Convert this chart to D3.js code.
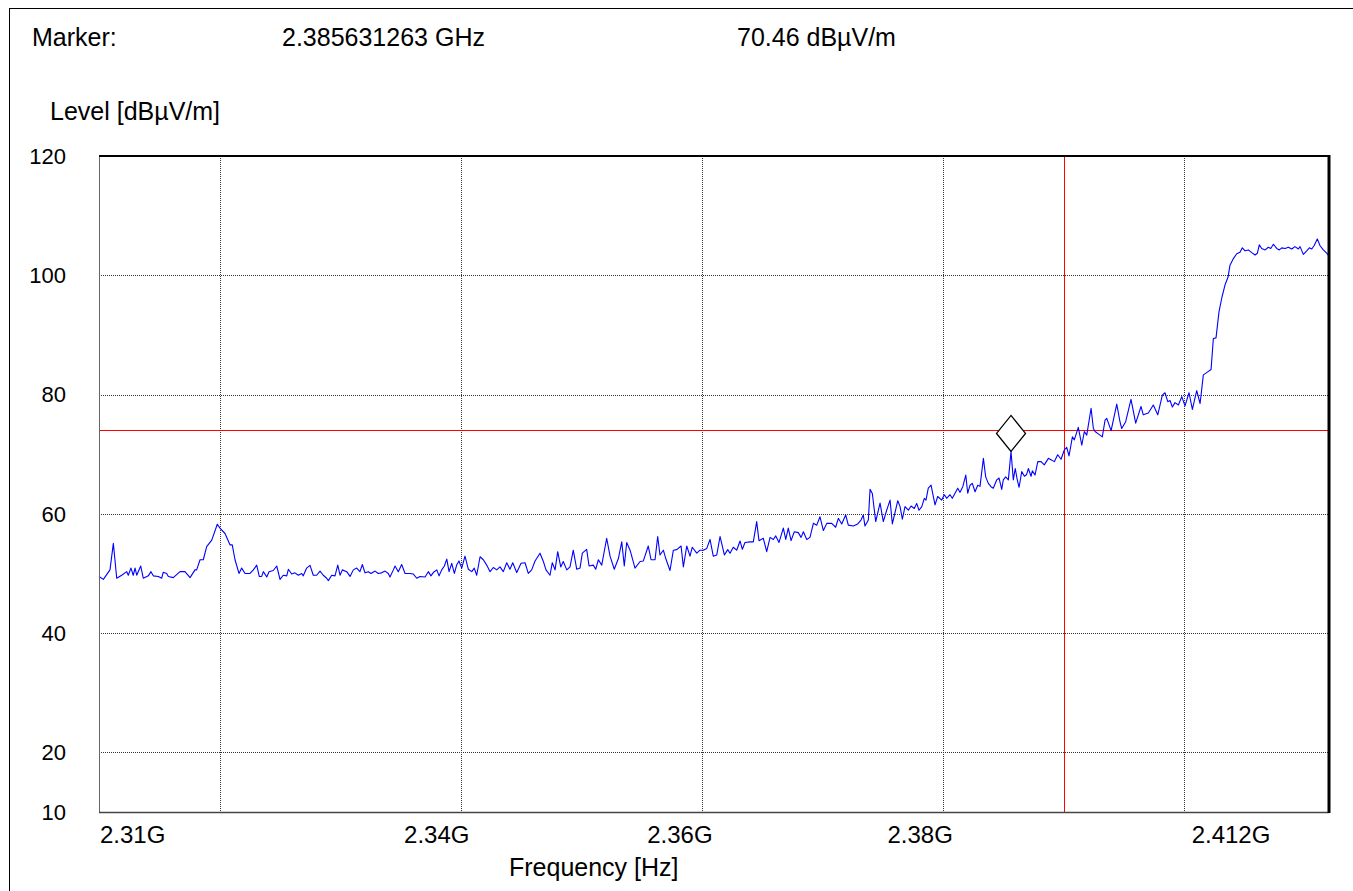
<!DOCTYPE html>
<html>
<head>
<meta charset="utf-8">
<script src="https://cdn.jsdelivr.net/npm/d3@7"></script>
<style>
  html, body { margin: 0; padding: 0; background: #fff; }
  svg { display: block; font-family: "Liberation Sans", Arial, Helvetica, sans-serif; }
</style>
</head>
<body>
<svg id="chart" width="1353" height="891"></svg>
<script>
// Sweep trace: [frequency in MHz, level in dBµV/m]
const trace = [
  [2310.00,49.5],[2310.36,49.0],[2310.91,50.6],[2311.19,55.05],[2311.47,49.2],[2311.88,49.7],[2312.30,50.3],[2312.43,49.7],[2312.65,50.9],[2312.84,49.7],[2312.99,50.9],[2313.13,49.7],[2313.46,51.25],[2313.67,49.2],[2314.09,49.6],[2314.31,50.3],[2314.50,49.6],[2314.92,49.5],[2315.20,49.2],[2315.33,50.2],[2315.61,50.0],[2315.75,49.5],[2316.16,49.3],[2316.72,50.3],[2317.13,50.3],[2317.55,49.3],[2317.96,50.6],[2318.10,50.6],[2318.38,52.3],[2318.65,52.3],[2318.93,54.5],[2319.35,55.6],[2319.81,58.25],[2320.03,57.6],[2320.45,56.7],[2320.86,54.8],[2321.05,54.8],[2321.28,52.3],[2321.61,50.0],[2321.83,50.9],[2322.11,50.0],[2322.52,50.0],[2322.80,50.6],[2323.08,51.4],[2323.29,49.5],
  [2323.49,49.5],[2323.63,50.3],[2323.91,49.4],[2324.10,50.3],[2324.45,50.5],[2324.74,51.25],[2325.01,49.0],[2325.28,49.7],[2325.57,49.6],[2325.70,50.7],[2325.98,49.9],[2326.25,50.1],[2326.53,49.7],[2326.81,50.0],[2326.94,49.6],[2327.22,50.9],[2327.50,51.35],[2327.77,49.7],[2328.05,49.7],[2328.33,50.4],[2328.60,49.7],[2328.88,49.2],[2329.02,48.8],[2329.30,49.7],[2329.57,49.6],[2329.80,51.4],[2329.99,49.7],[2330.18,50.6],[2330.54,50.3],[2330.82,49.5],[2331.09,50.6],[2331.37,50.9],[2331.64,50.3],[2331.84,51.5],[2332.06,50.1],[2332.33,50.3],[2332.56,50.0],[2332.89,50.4],[2333.16,50.0],[2333.44,50.1],[2333.72,50.4],[2333.99,50.0],[2334.13,49.4],[2334.41,50.6],[2334.55,51.25],[2334.82,50.3],[2335.10,51.5],[2335.38,50.0],[2335.79,50.0],[2336.07,49.9],[2336.35,49.2],[2336.62,49.5],
  [2337.04,49.4],[2337.31,50.3],[2337.53,49.6],[2337.72,50.15],[2338.01,50.6],[2338.20,49.6],[2338.42,50.6],[2338.64,51.25],[2338.84,52.4],[2339.03,50.3],[2339.25,51.7],[2339.47,50.0],[2339.66,51.4],[2339.85,52.1],[2340.08,50.9],[2340.35,52.9],[2340.63,50.7],[2340.91,50.3],[2341.12,50.9],[2341.32,49.7],[2341.60,52.8],[2341.87,52.3],[2342.15,51.4],[2342.43,50.3],[2342.70,51.0],[2342.98,50.6],[2343.25,51.1],[2343.53,50.3],[2343.81,51.8],[2344.08,50.7],[2344.31,51.8],[2344.64,50.15],[2345.00,51.7],[2345.33,51.8],[2345.60,50.0],[2345.88,50.6],[2346.16,52.1],[2346.57,53.4],[2346.85,52.0],[2347.07,50.6],[2347.40,49.7],[2347.59,51.8],[2347.82,50.6],[2348.04,53.65],[2348.29,51.1],[2348.50,52.0],[2348.79,50.6],[2349.06,51.1],[2349.33,53.9],[2349.62,50.7],
  [2349.89,50.9],[2350.08,53.4],[2350.44,54.05],[2350.64,51.25],[2350.99,51.4],[2351.19,50.7],[2351.41,52.3],[2351.69,51.4],[2352.10,55.9],[2352.38,52.9],[2352.73,50.7],[2353.07,52.5],[2353.35,55.3],[2353.56,51.25],[2353.76,55.2],[2354.04,53.9],[2354.45,50.9],[2354.87,52.0],[2355.14,52.1],[2355.55,54.6],[2355.78,52.3],[2356.11,52.3],[2356.33,56.2],[2356.52,53.1],[2356.80,53.9],[2357.00,52.5],[2357.35,50.5],[2357.63,53.9],[2357.91,54.0],[2358.27,54.6],[2358.46,51.1],[2358.74,54.6],[2359.01,52.9],[2359.20,54.4],[2359.57,53.4],[2359.84,53.9],[2360.11,53.9],[2360.40,54.2],[2360.67,55.7],[2360.94,52.9],[2361.23,53.1],[2361.50,56.2],[2361.86,53.1],[2362.14,54.0],[2362.33,53.4],[2362.60,54.4],[2362.88,53.9],[2363.16,55.45],
  [2363.35,54.05],[2363.57,55.2],[2363.99,55.3],[2364.26,55.3],[2364.54,58.7],[2364.73,55.5],[2365.09,55.9],[2365.37,53.65],[2365.65,56.05],[2365.92,55.7],[2366.12,56.3],[2366.39,55.2],[2366.75,57.6],[2366.95,55.7],[2367.16,57.6],[2367.39,55.5],[2367.66,57.0],[2367.99,56.85],[2368.22,56.05],[2368.41,57.0],[2368.69,55.7],[2368.96,56.05],[2369.24,58.4],[2369.52,58.1],[2369.79,59.5],[2370.07,57.2],[2370.35,58.4],[2370.76,58.4],[2371.09,57.75],[2371.31,59.25],[2371.59,58.3],[2371.92,59.8],[2372.14,58.1],[2372.55,57.95],[2372.92,58.3],[2373.19,58.95],[2373.38,59.8],[2373.52,57.95],[2373.80,58.95],[2373.94,64.1],[2374.13,63.4],[2374.41,58.7],[2374.77,61.8],[2375.04,58.7],[2375.32,60.6],[2375.60,62.3],[2375.79,58.3],[2376.24,62.2],[2376.43,61.2],
  [2376.62,59.1],[2376.84,61.2],[2377.12,60.6],[2377.34,61.3],[2377.61,60.9],[2377.81,61.75],[2378.00,60.6],[2378.23,61.2],[2378.44,62.6],[2378.58,62.3],[2378.77,64.3],[2379.00,64.8],[2379.19,62.9],[2379.33,61.5],[2379.55,62.9],[2379.88,62.3],[2380.10,63.2],[2380.30,62.6],[2380.57,63.2],[2380.76,62.6],[2380.99,63.45],[2381.21,64.3],[2381.40,63.6],[2381.63,64.55],[2381.88,66.5],[2382.04,63.45],[2382.23,64.8],[2382.42,65.1],[2382.65,63.7],[2382.87,64.8],[2383.06,64.6],[2383.34,69.3],[2383.53,66.2],[2383.75,65.1],[2383.97,64.55],[2384.16,64.3],[2384.45,65.7],[2384.64,66.0],[2384.86,64.1],[2384.99,65.7],[2385.19,66.2],[2385.41,65.7],[2385.631263,70.46],[2385.82,65.7],[2385.98,67.6],[2386.15,65.7],[2386.30,64.45],[2386.52,67.1],[2386.74,66.3],[2386.93,66.6],[2387.07,67.6],[2387.29,66.3],[2387.40,67.2],[2387.62,66.5],[2387.85,68.75],[2388.12,68.75],[2388.39,68.2],[2388.73,69.3],[2389.01,69.0],[2389.22,68.75],[2389.50,69.9],
  [2389.78,69.15],[2390.05,70.7],[2390.25,71.15],[2390.44,69.7],[2390.72,72.9],[2390.88,72.4],[2391.21,74.5],[2391.50,71.5],[2391.71,73.8],[2391.91,73.2],[2392.27,77.7],[2392.46,74.3],[2392.60,73.8],[2392.87,73.4],[2393.20,72.9],[2393.43,75.7],[2393.57,76.0],[2393.93,73.95],[2394.40,78.4],[2394.67,75.4],[2394.81,74.3],[2395.14,75.45],[2395.58,79.2],[2395.97,75.2],[2396.41,78.0],[2396.60,76.6],[2397.02,76.9],[2397.43,78.25],[2397.80,76.6],[2398.18,79.9],[2398.40,80.3],[2398.63,78.8],[2398.82,79.0],[2399.01,77.9],[2399.23,78.65],[2399.51,78.25],[2399.79,79.65],[2400.06,78.1],[2400.39,80.3],[2400.67,77.5],[2401.03,80.65],[2401.31,78.5],[2401.58,83.3],[2401.94,83.8],[2402.22,84.2],[2402.41,89.4],[2402.63,89.5],[2402.88,93.9],[2403.13,96.4],[2403.38,98.4],[2403.63,99.7],[2403.79,101.7],[2404.07,102.8],[2404.35,103.6],[2404.62,103.85],[2404.81,104.6],
  [2405.04,104.1],[2405.31,104.25],[2405.59,103.8],[2405.87,103.4],[2406.06,103.7],[2406.22,105.1],[2406.42,104.5],[2406.70,104.25],[2406.97,104.7],[2407.17,104.5],[2407.39,105.2],[2407.67,104.5],[2407.88,104.25],[2408.08,104.6],[2408.36,104.5],[2408.63,104.7],[2408.91,104.4],[2409.18,104.8],[2409.46,104.4],[2409.60,104.8],[2409.87,103.5],[2410.15,104.1],[2410.37,104.6],[2410.57,104.4],[2410.76,104.95],[2411.03,106.1],[2411.26,104.95],[2411.53,104.25],[2411.81,103.7],[2412.00,103.2]
];

// Axis ranges and ticks
const freqDomainMHz = [2310, 2412];
const levelDomain = [10, 120];
const levelTicks = [120, 100, 80, 60, 40, 20, 10];
const levelGrid = [20, 40, 60, 80, 100];
const freqGridMHz = [2320, 2340, 2360, 2380, 2400];
const freqTickMHz = [2310, 2340, 2360, 2380, 2412];
const freqTickLabels = ["2.31G", "2.34G", "2.36G", "2.38G", "2.412G"];

// Limit lines and marker
const limitLevel = 74;
const bandEdgeMHz = 2390;
const markerFreqMHz = 2385.631263;
const markerLevel = 70.46;

const svg = d3.select("#chart");
const W = 1353, H = 891;
const m = { left: 99, right: 1329, top: 156, bottom: 812 };
const FONT = 25, XTICKFONT = 24, YTICKFONT = 22;

const x = d3.scaleLinear().domain(freqDomainMHz).range([m.left, m.right]);
const y = d3.scaleLinear().domain(levelDomain).range([m.bottom, m.top]);
const px = v => Math.round(v) + 0.5;

// Page frame
svg.append("rect").attr("x", 9.5).attr("y", 8.5).attr("width", W + 10).attr("height", H + 10)
  .attr("fill", "#fff").attr("stroke", "#000").attr("stroke-width", 1);

// Header: marker readout
const header = svg.append("g").attr("font-size", FONT).attr("fill", "#000");
header.append("text").attr("x", 32).attr("y", 46).text("Marker:");
header.append("text").attr("x", 282).attr("y", 46).text((markerFreqMHz / 1000).toFixed(9) + " GHz");
header.append("text").attr("x", 737).attr("y", 46).text(markerLevel.toFixed(2) + " dBµV/m");
header.append("text").attr("x", 50).attr("y", 120).text("Level [dBµV/m]");

// Grid
const grid = svg.append("g").attr("stroke", "#333").attr("stroke-width", 1).attr("stroke-dasharray", "1,1");
grid.selectAll("line.h").data(levelGrid).join("line").attr("class", "h")
  .attr("x1", m.left).attr("x2", m.right).attr("y1", d => px(y(d))).attr("y2", d => px(y(d)));
grid.selectAll("line.v").data(freqGridMHz).join("line").attr("class", "v")
  .attr("x1", d => px(x(d))).attr("x2", d => px(x(d))).attr("y1", m.top).attr("y2", m.bottom);

// Limit lines
svg.append("line").attr("x1", m.left).attr("x2", m.right)
  .attr("y1", px(y(limitLevel))).attr("y2", px(y(limitLevel))).attr("stroke", "#ff0000").attr("stroke-width", 1);
svg.append("line").attr("x1", px(x(bandEdgeMHz))).attr("x2", px(x(bandEdgeMHz)))
  .attr("y1", m.top).attr("y2", m.bottom).attr("stroke", "#ff0000").attr("stroke-width", 1);

// Trace
const line = d3.line().x(d => x(d[0])).y(d => y(d[1]));
svg.append("path").datum(trace).attr("d", line)
  .attr("fill", "none").attr("stroke", "#0000ff").attr("stroke-width", 1.1).attr("stroke-linejoin", "round");

// Marker diamond (bottom vertex on the marked point)
const mx = x(markerFreqMHz), my = y(markerLevel);
svg.append("path")
  .attr("d", `M${mx},${my} L${mx + 14.5},${my - 18} L${mx},${my - 36} L${mx - 14.5},${my - 18} Z`)
  .attr("fill", "#fff").attr("stroke", "#000").attr("stroke-width", 1.3);

// Plot frame
svg.append("line").attr("x1", px(m.left)).attr("x2", px(m.left)).attr("y1", m.top).attr("y2", m.bottom)
  .attr("stroke", "#666").attr("stroke-width", 1);
svg.append("line").attr("x1", m.left).attr("x2", m.right).attr("y1", px(m.bottom)).attr("y2", px(m.bottom))
  .attr("stroke", "#444").attr("stroke-width", 1.5);
svg.append("line").attr("x1", m.left).attr("x2", m.right + 1).attr("y1", m.top).attr("y2", m.top)
  .attr("stroke", "#000").attr("stroke-width", 2);
svg.append("line").attr("x1", m.right).attr("x2", m.right).attr("y1", m.top - 1).attr("y2", m.bottom + 1)
  .attr("stroke", "#000").attr("stroke-width", 3);

// Level tick labels
svg.append("g").attr("font-size", YTICKFONT).attr("text-anchor", "end")
  .selectAll("text").data(levelTicks).join("text")
  .attr("x", 66).attr("y", d => y(d)).attr("dy", "0.36em").text(d => d);

// Frequency tick labels
const anchors = ["start", "middle", "middle", "middle", "middle"];
const offsets = [1, -24, -22, -23, -98];
svg.append("g").attr("font-size", XTICKFONT)
  .selectAll("text").data(freqTickMHz).join("text")
  .attr("x", (d, i) => x(d) + offsets[i]).attr("y", 843)
  .attr("text-anchor", (d, i) => anchors[i]).text((d, i) => freqTickLabels[i]);

svg.append("text").attr("x", 509).attr("y", 876).attr("font-size", FONT).text("Frequency [Hz]");
</script>
</body>
</html>
